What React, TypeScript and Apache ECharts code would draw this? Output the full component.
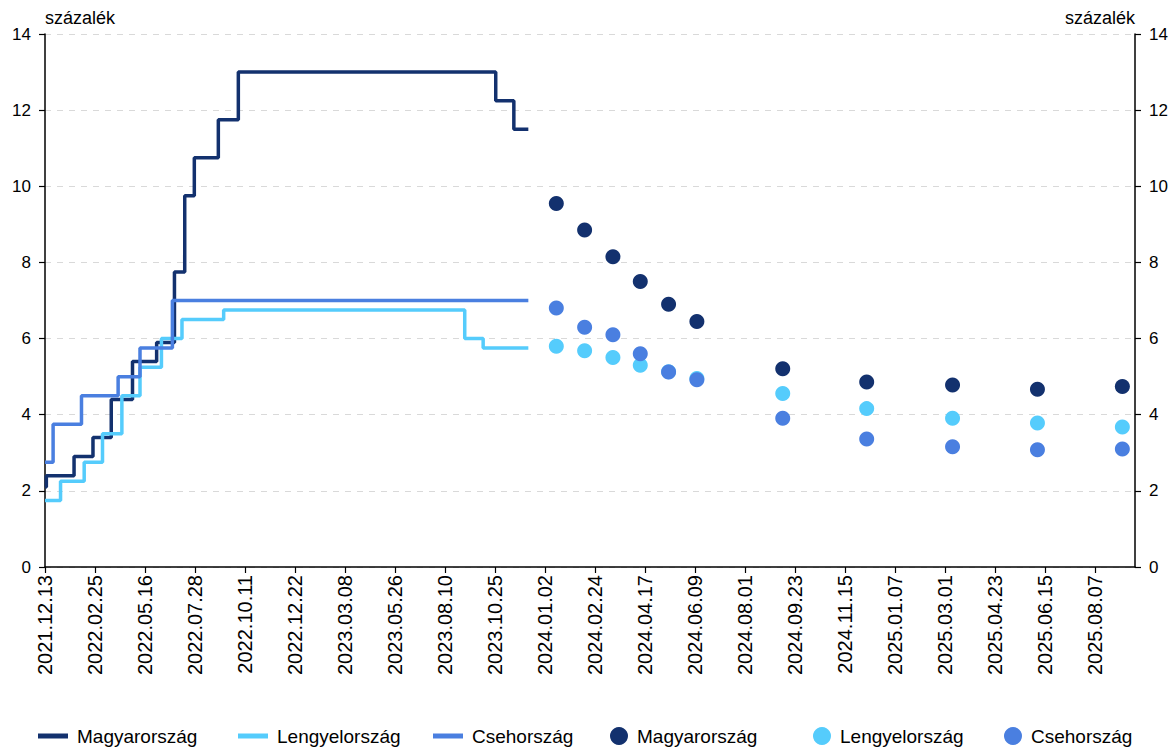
import React, { useEffect, useRef } from "react";
import * as echarts from "echarts";

// Tick labels of the x axis (equally spaced in the original chart)
const tickLabels = [
  "2021.12.13", "2022.02.25", "2022.05.16", "2022.07.28", "2022.10.11", "2022.12.22",
  "2023.03.08", "2023.05.26", "2023.08.10", "2023.10.25", "2024.01.02", "2024.02.24",
  "2024.04.17", "2024.06.09", "2024.08.01", "2024.09.23", "2024.11.15", "2025.01.07",
  "2025.03.01", "2025.04.23", "2025.06.15", "2025.08.07",
];

// Policy rates (step lines)
const huDates = ["2021.12.13", "2021.12.15", "2022.01.25", "2022.02.22", "2022.03.23", "2022.04.26", "2022.06.02", "2022.06.28", "2022.07.13", "2022.07.27", "2022.09.01", "2022.10.01", "2023.10.26", "2023.11.20", "2023.12.10"];
const huRates = [2.1, 2.4, 2.9, 3.4, 4.4, 5.4, 5.9, 7.75, 9.75, 10.75, 11.75, 13.0, 12.25, 11.5, 11.5];

const plDates = ["2021.12.13", "2022.01.05", "2022.02.09", "2022.03.09", "2022.04.09", "2022.05.08", "2022.06.09", "2022.07.09", "2022.09.09", "2023.09.09", "2023.10.07", "2023.12.10"];
const plRates = [1.75, 2.25, 2.75, 3.5, 4.5, 5.25, 6.0, 6.5, 6.75, 6.0, 5.75, 5.75];

const czDates = ["2021.12.13", "2021.12.25", "2022.02.05", "2022.04.03", "2022.05.08", "2022.06.25", "2023.12.10"];
const czRates = [2.75, 3.75, 4.5, 5.0, 5.75, 7.0, 7.0];

// Expectations (dots)
const fcDates = ["2024.01.14", "2024.02.13", "2024.03.14", "2024.04.12", "2024.05.12", "2024.06.11", "2024.09.10", "2024.12.08", "2025.03.09", "2025.06.07", "2025.09.05"];
const huForecast = [9.55, 8.85, 8.15, 7.5, 6.9, 6.45, 5.21, 4.86, 4.78, 4.67, 4.74];
const plForecast = [5.8, 5.68, 5.5, 5.3, 5.13, 4.95, 4.56, 4.16, 3.91, 3.78, 3.68];
const czForecast = [6.8, 6.3, 6.1, 5.6, 5.12, 4.92, 3.91, 3.36, 3.16, 3.08, 3.1];

const seriesNames = ["Magyarország", "Lengyelország", "Csehország"];
const colors = ["#13316E", "#55CCFC", "#4A7FE0"];

const toMs = (s: string) => {
  const [y, m, d] = s.split(".").map(Number);
  return Date.UTC(y, m - 1, d);
};
const tickMs = tickLabels.map(toMs);

// map a date onto the (piecewise-linear) category-tick scale
const pos = (s: string) => {
  const t = toMs(s);
  const n = tickMs.length;
  let i = 0;
  while (i < n - 2 && t > tickMs[i + 1]) i++;
  return i + (t - tickMs[i]) / (tickMs[i + 1] - tickMs[i]);
};

const pairs = (dates: string[], vals: number[]) => dates.map((d, i) => [pos(d), vals[i]]);

const FONT = "'Liberation Sans', Arial, sans-serif";

export default function App() {
  const ref = useRef<HTMLDivElement>(null);
  useEffect(() => {
    if (!ref.current) return;
    const chart = echarts.init(ref.current, null, { renderer: "svg" });
    const tickIdx = tickLabels.map((_, i) => i);
    const lineData = [pairs(huDates, huRates), pairs(plDates, plRates), pairs(czDates, czRates)];
    const dotData = [pairs(fcDates, huForecast), pairs(fcDates, plForecast), pairs(fcDates, czForecast)];

    const yAxisCommon = {
      type: "value",
      min: 0,
      max: 14,
      interval: 2,
      name: "százalék",
      nameLocation: "end",
      nameGap: 7,
      axisLine: { show: true, lineStyle: { color: "#000", width: 1.5 } },
      axisTick: { show: true, length: 6, lineStyle: { color: "#000", width: 1.2 } },
      axisLabel: { fontSize: 17, color: "#000", margin: 14, fontFamily: FONT },
    };

    const legendLefts = [33, 233, 428, 605, 808, 999];
    const legends = legendLefts.map((left, k) => {
      const isDot = k >= 3;
      return {
        left,
        top: 726,
        padding: [0, 5, 0, 5],
        orient: "horizontal",
        selectedMode: false,
        itemWidth: isDot ? 18 : 30,
        itemHeight: isDot ? 18 : 5,
        data: [{ name: seriesNames[k % 3], icon: isDot ? "circle" : "rect" }],
        textStyle: { fontSize: 19, lineHeight: 20, color: "#000", fontFamily: FONT, padding: [0, 0, 0, 4] },
      };
    });

    const series: any[] = [];
    for (let k = 0; k < 3; k++) {
      series.push({
        type: "line",
        name: seriesNames[k],
        step: "end",
        data: lineData[k],
        symbol: "none",
        color: colors[k],
        itemStyle: { color: colors[k] },
        lineStyle: { color: colors[k], width: 3.5 },
        z: 2,
      });
    }
    for (let k = 0; k < 3; k++) {
      series.push({
        type: "scatter",
        name: seriesNames[k],
        data: dotData[k],
        symbol: "circle",
        symbolSize: 15,
        color: colors[k],
        itemStyle: { color: colors[k], opacity: 1 },
        z: 3,
      });
    }

    chart.setOption({
      animation: false,
      textStyle: { fontFamily: FONT },
      grid: { left: 45, right: 39, top: 34, bottom: 180, containLabel: false },
      xAxis: {
        type: "value",
        min: 0,
        max: 21.8,
        interval: 1,
        axisLine: { onZero: false, lineStyle: { color: "#000", width: 1.5 } },
        axisTick: { show: true, length: 6, lineStyle: { color: "#000", width: 1.2 }, customValues: tickIdx },
        axisLabel: {
          rotate: 90,
          fontSize: 20,
          color: "#000",
          margin: 8,
          fontFamily: FONT,
          customValues: tickIdx,
          formatter: (v: number) => {
            const i = Math.round(v);
            return Math.abs(v - i) < 1e-6 && tickLabels[i] ? tickLabels[i] : "";
          },
        },
        splitLine: { show: false },
      },
      yAxis: [
        {
          ...yAxisCommon,
          position: "left",
          nameTextStyle: { align: "left", fontSize: 18, color: "#000", fontFamily: FONT },
          splitLine: { show: true, lineStyle: { color: "#d9d9d9", type: [6, 6], width: 1.2 } },
        },
        {
          ...yAxisCommon,
          position: "right",
          nameTextStyle: { align: "right", fontSize: 18, color: "#000", fontFamily: FONT },
          splitLine: { show: false },
        },
      ],
      legend: legends,
      series,
    });
    return () => chart.dispose();
  }, []);

  return <div ref={ref} style={{ width: 1174, height: 747, position: "absolute", left: 0, top: 0 }} />;
}
